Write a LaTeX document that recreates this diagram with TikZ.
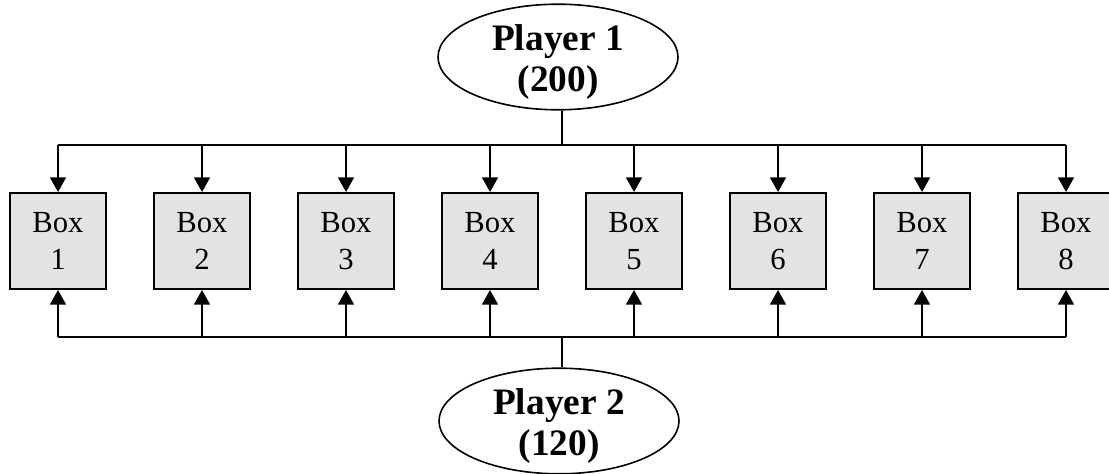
\documentclass[tikz,border=0pt]{standalone}
\usepackage{fontspec}
\setmainfont{Liberation Serif}
\usepackage{tikz}
\usetikzlibrary{arrows.meta,positioning,calc,shapes.geometric}

\tikzset{
	boxnode/.style={draw, line width=1.5pt, fill=gray!22, minimum size=72pt, inner sep=0pt,
		align=center, font=\fontsize{23}{28}\selectfont},
	player/.style={draw, ellipse, line width=1.2pt, minimum width=180pt, minimum height=78pt,
		inner sep=0pt, align=center, text height=54pt, text depth=2pt,
		font=\fontsize{28}{31}\selectfont\bfseries},
	bus/.style={line width=1.3pt},
	feed/.style={line width=1.3pt, -{Triangle[width=12pt,length=11pt]}}
}

\begin{document}
\begin{tikzpicture}[x=0.75pt,y=-0.75pt]
			\useasboundingbox (0,0) rectangle (1109,474);
			\node[player] (P1) at (558,57) {Player 1\\(200)};
			\node[player] (P2) at (559,421) {Player 2\\(120)};
			\node[boxnode] (B1) at (58,241) {Box\\1};
			\node[boxnode] (B2) at (202,241) {Box\\2};
			\node[boxnode] (B3) at (346,241) {Box\\3};
			\node[boxnode] (B4) at (490,241) {Box\\4};
			\node[boxnode] (B5) at (634,241) {Box\\5};
			\node[boxnode] (B6) at (778,241) {Box\\6};
			\node[boxnode] (B7) at (922,241) {Box\\7};
			\node[boxnode] (B8) at (1066,241) {Box\\8};
			\coordinate (T) at (562,145);
			\coordinate (D) at (562,337);
			
			% upper bus
			\draw[bus] (P1.south -| T) -- (T);
			\draw[bus] (B1 |- T) -- (B8 |- T);
			% lower bus
			\draw[bus] (P2.north -| D) -- (D);
			\draw[bus] (B1 |- D) -- (B8 |- D);
			
			\foreach \b in {B1,B2,B3,B4,B5,B6,B7,B8} {
				\draw[feed] (\b |- T) -- (\b.north);
				\draw[feed] (\b |- D) -- (\b.south);
			}
		\end{tikzpicture}
\end{document}
